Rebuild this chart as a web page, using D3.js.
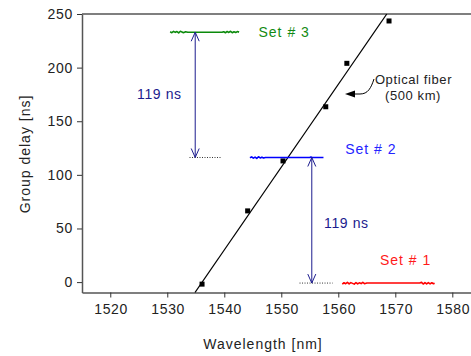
<!DOCTYPE html>
<html>
<head>
<meta charset="utf-8">
<script src="https://cdn.jsdelivr.net/npm/d3@7"></script>
<style>
  body { margin: 0; background: #fff; }
  text { font-family: "Liberation Sans", Arial, sans-serif; }
</style>
</head>
<body>
<div id="chart"></div>
<script>
const WIDTH = 471;
const HEIGHT = 356;
const MARGIN = { top: 14, right: 0, bottom: 63.5, left: 82 };

const X_TICKS = [1520, 1530, 1540, 1550, 1560, 1570, 1580];
const Y_TICKS = [0, 50, 100, 150, 200, 250];

// measured group delay of the fiber (squares)
const fiberPoints = [
  [1536.1, -1.9], [1544.1, 66.4], [1550.3, 113.0],
  [1557.8, 163.5], [1561.5, 204.0], [1568.9, 243.5]
];
// linear fit through them
const fitLine = [[1534.86, -9.7], [1568.5, 250]];

// the three pulse sets
const set1 = [
  [1560.7, -1.8], [1561.0, -0.6], [1561.3, -1.5], [1561.6, -0.3], [1561.9, -1.7],
  [1562.2, -0.5], [1562.5, -1.2], [1562.8, -1.9], [1563.1, -0.4], [1563.4, -1.6],
  [1563.7, -0.7], [1564.0, -1.4], [1564.3, -0.2], [1564.6, -1.5], [1565.0, -0.9],
  [1574.3, -0.9], [1574.6, -0.2], [1574.9, -1.8], [1575.2, -0.4], [1575.5, -1.7],
  [1575.8, -0.5], [1576.1, -1.6], [1576.4, -0.6], [1576.7, -1.5], [1576.9, -1.0]
];
const set2 = [
  [1544.5, 116.0], [1544.8, 116.8], [1545.1, 115.6], [1545.4, 116.6], [1545.7, 115.4],
  [1546.0, 116.9], [1546.3, 115.8], [1546.6, 116.5], [1546.9, 115.7], [1547.2, 116.2],
  [1555.0, 116.2], [1555.2, 116.7], [1555.4, 116.2], [1557.4, 116.2]
];
const set3 = [
  [1530.5, 233.4], [1530.8, 232.6], [1531.1, 233.8], [1531.4, 232.9], [1531.7, 233.6],
  [1532.0, 232.4], [1532.3, 233.9], [1532.6, 233.1], [1532.9, 232.6], [1533.2, 233.5],
  [1533.6, 233.0], [1539.6, 233.0], [1539.9, 233.5], [1540.2, 232.5], [1540.5, 233.7],
  [1540.8, 232.8], [1541.1, 233.9], [1541.4, 232.6], [1541.7, 233.4], [1542.0, 232.7],
  [1542.3, 233.6], [1542.6, 233.1]
];

// dotted reference levels and the 119 ns spacing arrows
const refLevels = [
  { x1: 1533.9, x2: 1539.5, y: 116.2 },
  { x1: 1553.2, x2: 1559.0, y: -0.9 }
];
const spacingArrows = [
  { x: 1534.9, y1: 233.0, y2: 116.2, label: "119 ns", lx: 1524.7, ly: 171 },
  { x: 1555.35, y1: 116.2, y2: -0.9, label: "119 ns", lx: 1557.5, ly: 50 }
];
const setLabels = [
  { text: "Set # 3", x: 1546.0, y: 229.0, color: "#138a13" },
  { text: "Set # 2", x: 1561.2, y: 119.6, color: "#2424ff" },
  { text: "Set # 1", x: 1567.3, y: 16.1, color: "#ff1a1a" }
];

const svg = d3.select("#chart").append("svg")
  .attr("width", WIDTH)
  .attr("height", HEIGHT);

const x = d3.scaleLinear()
  .domain([1515.04, 1583.28])
  .range([MARGIN.left, WIDTH - MARGIN.right]);
const y = d3.scaleLinear()
  .domain([-9.7, 250])
  .range([HEIGHT - MARGIN.bottom, MARGIN.top]);

// axes
const xAxis = svg.append("g")
  .attr("transform", `translate(0, ${HEIGHT - MARGIN.bottom})`)
  .call(d3.axisBottom(x).tickValues(X_TICKS).tickFormat(d3.format("d")).tickSize(5).tickSizeOuter(0).tickPadding(7));
const yAxis = svg.append("g")
  .attr("transform", `translate(${MARGIN.left}, 0)`)
  .call(d3.axisLeft(y).tickValues(Y_TICKS).tickSize(5).tickSizeOuter(0).tickPadding(4));

[xAxis, yAxis].forEach(function (g) {
  g.select(".domain").attr("stroke", "#555").attr("stroke-width", 1.5);
  g.selectAll(".tick line").attr("stroke", "#333");
  g.selectAll(".tick text")
    .attr("fill", "#222")
    .style("font-size", "14px")
    .style("letter-spacing", "0.7px")
    .style("font-family", '"Liberation Sans", Arial, sans-serif');
});
xAxis.selectAll(".tick text").attr("dx", "0.35px");

// top frame line
svg.append("line")
  .attr("x1", MARGIN.left).attr("x2", WIDTH)
  .attr("y1", y(250)).attr("y2", y(250))
  .attr("stroke", "#555").attr("stroke-width", 1.5);

// axis titles
svg.append("text")
  .attr("x", 263).attr("y", 348.5)
  .attr("text-anchor", "middle")
  .style("font-size", "14px").style("letter-spacing", "1px")
  .attr("fill", "#222")
  .text("Wavelength [nm]");
svg.append("text")
  .attr("transform", `translate(29.5, 154) rotate(-90)`)
  .attr("text-anchor", "middle")
  .style("font-size", "14px").style("letter-spacing", "1px")
  .attr("fill", "#222")
  .text("Group delay [ns]");

const line = d3.line().x(d => x(d[0])).y(d => y(d[1]));

// fit line and fiber points
svg.append("path")
  .datum(fitLine)
  .attr("d", line)
  .attr("fill", "none").attr("stroke", "#000").attr("stroke-width", 1.3);
svg.append("g").selectAll("rect")
  .data(fiberPoints)
  .enter().append("rect")
  .attr("x", d => x(d[0]) - 2.5)
  .attr("y", d => y(d[1]) - 2.5)
  .attr("width", 5).attr("height", 5)
  .attr("fill", "#000");

// dotted reference levels
svg.append("g").selectAll("line")
  .data(refLevels)
  .enter().append("line")
  .attr("x1", d => x(d.x1)).attr("x2", d => x(d.x2))
  .attr("y1", d => y(d.y)).attr("y2", d => y(d.y))
  .attr("stroke", "#333").attr("stroke-width", 1)
  .attr("stroke-dasharray", "1,1.5");

// pulse sets
[[set3, "#0b8a0b"], [set2, "#0000ff"], [set1, "#ff0000"]].forEach(function (s) {
  svg.append("path")
    .datum(s[0])
    .attr("d", line)
    .attr("fill", "none")
    .attr("stroke", s[1])
    .attr("stroke-width", 1.6)
    .attr("stroke-linejoin", "round");
});

// spacing arrows
const NAVY = "#1c1c8e";
spacingArrows.forEach(function (a) {
  const ax = x(a.x);
  const top = y(a.y1);
  const bot = y(a.y2);
  svg.append("line")
    .attr("x1", ax).attr("x2", ax)
    .attr("y1", top).attr("y2", bot)
    .attr("stroke", NAVY).attr("stroke-width", 1);
  svg.append("path")
    .attr("d", `M${ax - 4},${top + 9}L${ax},${top}L${ax + 4},${top + 9}`)
    .attr("fill", "none").attr("stroke", NAVY).attr("stroke-width", 1);
  svg.append("path")
    .attr("d", `M${ax - 4},${bot - 9}L${ax},${bot}L${ax + 4},${bot - 9}`)
    .attr("fill", "none").attr("stroke", NAVY).attr("stroke-width", 1);
  svg.append("text")
    .attr("x", x(a.lx)).attr("y", y(a.ly))
    .style("font-size", "14px").style("letter-spacing", "0.6px")
    .attr("fill", NAVY)
    .text(a.label);
});

// set labels
svg.append("g").selectAll("text")
  .data(setLabels)
  .enter().append("text")
  .attr("x", d => x(d.x)).attr("y", d => y(d.y))
  .style("font-size", "14px").style("letter-spacing", "1px")
  .attr("fill", d => d.color)
  .text(d => d.text);

// optical fiber annotation
svg.append("path")
  .attr("d", "M374,79 C371,88 368,94 360,94 L354,94")
  .attr("fill", "none").attr("stroke", "#000").attr("stroke-width", 1);
svg.append("path")
  .attr("d", "M345,94 L355,90.5 L355,97.5 Z")
  .attr("fill", "#000");
svg.append("text")
  .attr("x", 413.5).attr("y", 84)
  .attr("text-anchor", "middle")
  .style("font-size", "13px").style("letter-spacing", "0.6px")
  .attr("fill", "#222")
  .text("Optical fiber");
svg.append("text")
  .attr("x", 413).attr("y", 100)
  .attr("text-anchor", "middle")
  .style("font-size", "13px").style("letter-spacing", "0.6px")
  .attr("fill", "#222")
  .text("(500 km)");
</script>
</body>
</html>
